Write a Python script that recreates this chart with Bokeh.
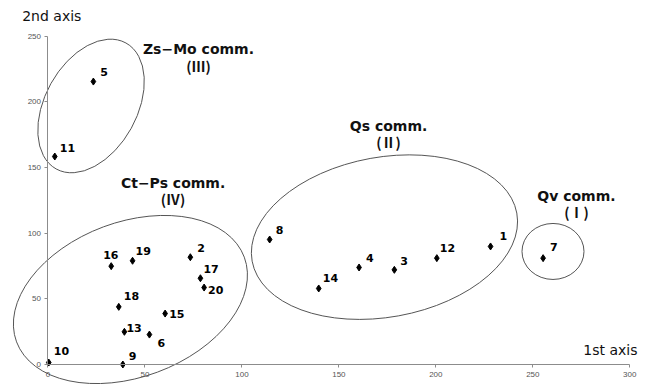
from bokeh.plotting import figure
from bokeh.models import Range1d, FixedTicker, ColumnDataSource
from bokeh.core.properties import value
from bokeh.embed import file_html
from bokeh.resources import INLINE

# ---- data ----
site_ids = [str(i) for i in range(1, 21)]
axis1 = [228.2, 73.4, 178.6, 160.4, 23.4, 52.3, 255.3, 114.3, 38.6, 0.4,
         3.5, 200.5, 39.4, 139.6, 60.4, 32.6, 78.6, 36.5, 43.6, 80.5]
axis2 = [89.9, 81.7, 72.1, 73.9, 215.5, 22.8, 81.0, 95.2, 0.0, 1.5,
         158.4, 81.0, 24.9, 57.9, 38.8, 74.9, 65.7, 43.9, 79.0, 58.6]

x_ticks = [0, 50, 100, 150, 200, 250, 300]
y_ticks = [0, 50, 100, 150, 200, 250]

group_names = ["Zs\u2212Mo comm.", "Ct\u2212Ps comm.", "Qs comm.", "Qv comm."]
group_numerals = ["(\u2162)", "(\u2163)", "(\u2161)", "(\u2160)"]

# ---- layout / style (not data) ----
label_dx = [9, 7, 6, 7, 7, 8, 7, 6, 6, 5, 5, 3, 2, 4, 4, -8, 3, 5, 3, 4]
label_dy = [-10, -9, -9, -9, -10, 8, -11, -10, -9, -12, -9, -10, -4, -10, 0, -11, -9, -11, -10, 2]

ell_x = [22.2, 42.5, 173.5, 260.4]
ell_y = [196.9, 49.5, 97.0, 86.1]
ell_w = [144, 243, 269, 62]
ell_h = [92, 155, 160, 56]
ell_a = [61, 20.4, 10.3, 0]

grp_x = [77.6, 64.5, 175.6, 272.5]
grp_y1 = [240.0, 138.6, 182.0, 128.0]
grp_y2 = [227.0, 126.4, 169.8, 115.8]

p = figure(width=647, height=384, output_backend="svg", toolbar_location=None,
           x_range=Range1d(-24.49, 309.13), y_range=Range1d(-15.23, 277.23),
           min_border=0, title=None)
p.outline_line_color = None
p.xgrid.visible = False
p.ygrid.visible = False
p.background_fill_color = "white"
p.border_fill_color = "white"

for ax, b, t in ((p.xaxis, (0, 300), x_ticks), (p.yaxis, (0, 250), y_ticks)):
    ax.fixed_location = 0
    ax.bounds = b
    ax.ticker = FixedTicker(ticks=t)
    ax.axis_line_color = "#8c8c8c"
    ax.major_tick_line_color = "#8c8c8c"
    ax.major_tick_in = 0
    ax.major_tick_out = 3
    ax.minor_tick_line_color = None
    ax.major_label_text_font = "Liberation Sans"
    ax.major_label_text_font_size = "8px"
    ax.major_label_text_color = "#555555"
p.xaxis.major_label_standoff = 4
p.yaxis.major_label_standoff = 4

# ellipses
esrc = ColumnDataSource(dict(x=ell_x, y=ell_y, w=ell_w, h=ell_h, a=ell_a))
p.ellipse(x="x", y="y", width="w", height="h", angle="a", angle_units="deg",
          width_units="screen", height_units="screen", source=esrc,
          fill_color=None, line_color="#555555", line_width=1)

# points
src = ColumnDataSource(dict(x=axis1, y=axis2, t=site_ids, dx=label_dx, dy=label_dy))
p.scatter(x="x", y="y", marker="diamond", size=7, color="black", source=src)
p.text(x="x", y="y", text="t", x_offset="dx", y_offset="dy", source=src,
       text_font=value("DejaVu Sans"), text_font_style="bold", text_font_size="11px",
       text_align="left", text_baseline="middle", text_color="black")

# group labels
gsrc = ColumnDataSource(dict(x=grp_x, y1=grp_y1, y2=grp_y2, n=group_names, r=group_numerals))
p.text(x="x", y="y1", text="n", source=gsrc, text_font=value("DejaVu Sans"),
       text_font_style="bold", text_font_size="14px", text_align="center",
       text_baseline="middle", text_color="#111111")
p.text(x="x", y="y2", text="r", source=gsrc, text_font=value("Noto Sans CJK KR"),
       text_font_style="bold", text_font_size="14px", text_align="center",
       text_baseline="middle", text_color="#111111")

# axis titles
p.text(x=[-13.3], y=[265.4], text=["2nd axis"], text_font=value("DejaVu Sans"),
       text_font_size="14px", text_align="left", text_baseline="middle", text_color="#111111")
p.text(x=[304.0], y=[11.4], text=["1st axis"], text_font=value("DejaVu Sans"),
       text_font_size="14px", text_align="right", text_baseline="middle", text_color="#111111")

open("out.html", "w").write(file_html(p, INLINE))
